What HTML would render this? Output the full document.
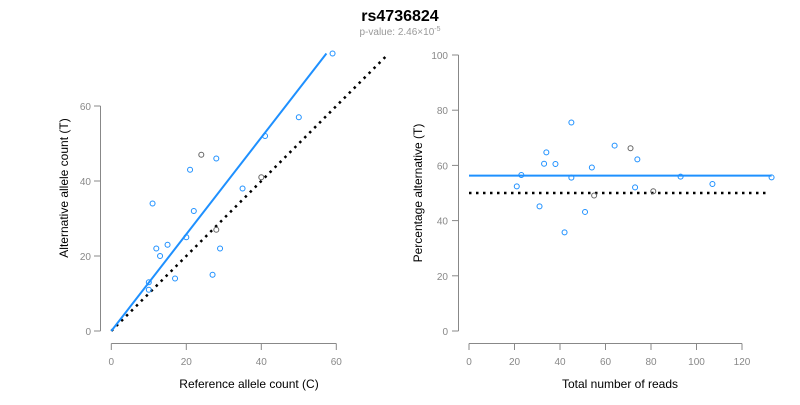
<!DOCTYPE html>
<html><head><meta charset="utf-8"><style>
body{margin:0;background:#fff}
svg{font-family:"Liberation Sans",Arial,sans-serif}
</style></head><body>
<svg id="c" width="800" height="400" viewBox="0 0 800 400">
<text x="400" y="21" text-anchor="middle" font-size="16" font-weight="bold">rs4736824</text>
<text x="400" y="35" text-anchor="middle" font-size="10" fill="#999">p-value: 2.46×10<tspan dy="-4" font-size="7">-5</tspan></text>
<g id="L"></g><g id="R"></g>
</svg>
<script>
const refCounts=[59,50,41,40,35,24,28,21,11,22,28,20,15,12,29,13,17,27,10,10];
const altCounts=[74,57,52,41,38,47,46,43,34,32,27,25,23,22,22,20,14,15,13,11];
const greyPts=[3,5,10];
const fitSlope=1.29;
const fitPct=56.3;
const leftXTicks=[0,20,40,60];
const leftYTicks=[0,20,40,60];
const rightXTicks=[0,20,40,60,80,100,120];
const rightYTicks=[0,20,40,60,80,100];
const NS="http://www.w3.org/2000/svg";
function mk(p,t,a){const e=document.createElementNS(NS,t);for(const k in a)e.setAttribute(k,a[k]);p.appendChild(e);return e;}
const L=document.getElementById('L'),R=document.getElementById('R');
const lx=v=>111.3+v*3.75, ly=v=>331-v*3.75;
const rx=v=>469+v*2.275, ry=v=>331-v*2.76;
let e=mk(L,'line',{x1:100.5,x2:100.5,y1:ly(0),y2:ly(60),stroke:'#888'});

leftYTicks.forEach(t=>{mk(L,'line',{x1:94,x2:100.5,y1:ly(t),y2:ly(t),stroke:'#888'});
const tx=mk(L,'text',{x:91,y:ly(t)+4,'text-anchor':'end','font-size':10,fill:'#888'});tx.textContent=t;
});
e=mk(L,'line',{x1:lx(0),x2:lx(60),y1:343.5,y2:343.5,stroke:'#888'});

leftXTicks.forEach(t=>{mk(L,'line',{x1:lx(t),x2:lx(t),y1:343.5,y2:350,stroke:'#888'});
const tx=mk(L,'text',{x:lx(t),y:365,'text-anchor':'middle','font-size':10,fill:'#888'});tx.textContent=t;
});
e=mk(L,'text',{x:249,y:388,'text-anchor':'middle','font-size':12});e.textContent='Reference allele count (C)';

e=mk(L,'text',{x:68,y:188,'text-anchor':'middle','font-size':12,transform:'rotate(-90 68 188)'});e.textContent='Alternative allele count (T)';

e=mk(L,'line',{x1:lx(0),y1:ly(0),x2:lx(73.3),y2:ly(73.3),stroke:'#000','stroke-width':2.5,'stroke-dasharray':'2.5 4.5'});

e=mk(L,'line',{x1:lx(0),y1:ly(0),x2:lx(74/fitSlope),y2:ly(74),stroke:'#1e90ff','stroke-width':2});

refCounts.forEach((r,i)=>{const c=mk(L,'circle',{cx:lx(r),cy:ly(altCounts[i]),r:2.5,fill:'none',stroke:greyPts.includes(i)?'#666':'#1e90ff','stroke-width':1});
});
e=mk(R,'line',{x1:458.5,x2:458.5,y1:ry(0),y2:ry(100),stroke:'#888'});

rightYTicks.forEach(t=>{mk(R,'line',{x1:452,x2:458.5,y1:ry(t),y2:ry(t),stroke:'#888'});
const tx=mk(R,'text',{x:448,y:ry(t)+4,'text-anchor':'end','font-size':10,fill:'#888'});tx.textContent=t;
});
e=mk(R,'line',{x1:rx(0),x2:rx(120),y1:343.5,y2:343.5,stroke:'#888'});

rightXTicks.forEach(t=>{mk(R,'line',{x1:rx(t),x2:rx(t),y1:343.5,y2:350,stroke:'#888'});
const tx=mk(R,'text',{x:rx(t),y:365,'text-anchor':'middle','font-size':10,fill:'#888'});tx.textContent=t;
});
e=mk(R,'text',{x:620,y:388,'text-anchor':'middle','font-size':12});e.textContent='Total number of reads';

e=mk(R,'text',{x:422,y:193,'text-anchor':'middle','font-size':12,transform:'rotate(-90 422 193)'});e.textContent='Percentage alternative (T)';

e=mk(R,'line',{x1:rx(0),y1:ry(50),x2:rx(131),y2:ry(50),stroke:'#000','stroke-width':2.5,'stroke-dasharray':'2.5 4.5'});

e=mk(R,'line',{x1:rx(0),y1:ry(fitPct),x2:rx(133),y2:ry(fitPct),stroke:'#1e90ff','stroke-width':2});

refCounts.forEach((r,i)=>{const t=r+altCounts[i];const c=mk(R,'circle',{cx:rx(t),cy:ry(altCounts[i]/t*100),r:2.5,fill:'none',stroke:greyPts.includes(i)?'#666':'#1e90ff','stroke-width':1});
});
</script>
</body></html>
